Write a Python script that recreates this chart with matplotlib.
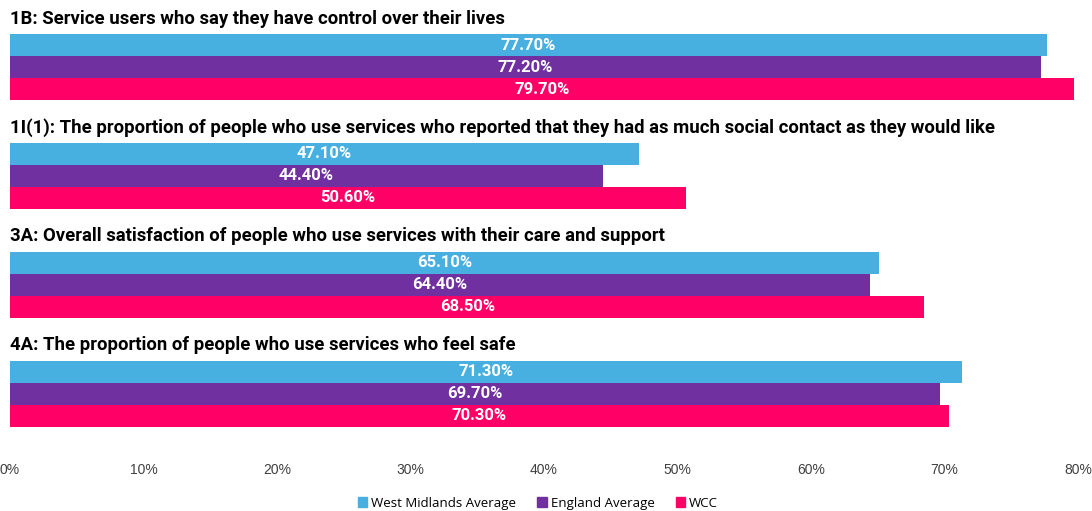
import matplotlib.pyplot as plt
from matplotlib.patches import Patch

titles = [
    "1B: Service users who say they have control over their lives",
    "1I(1): The proportion of people who use services who reported that they had as much social contact as they would like",
    "3A: Overall satisfaction of people who use services with their care and support",
    "4A: The proportion of people who use services who feel safe",
]
series = ["West Midlands Average", "England Average", "WCC"]
west_midlands = [77.7, 47.1, 65.1, 71.3]
england = [77.2, 44.4, 64.4, 69.7]
wcc = [79.7, 50.6, 68.5, 70.3]
colors = ["#47B0E0", "#7030A0", "#FF0066"]

narrow = ["Liberation Sans Narrow", "Roboto", "DejaVu Sans"]

fig = plt.figure(figsize=(10.92, 5.11), dpi=100)
ax = fig.add_axes([10 / 1092, 1 - 455 / 511, 1068 / 1092, 455 / 511])

pitch = 4.95
for g, title in enumerate(titles):
    y0 = g * pitch
    for j, vals in enumerate([west_midlands, england, wcc]):
        v = vals[g]
        ax.barh(y0 + j, v, height=1.0, color=colors[j])
        ax.text(v / 2, y0 + j, f"{v:.2f}%", ha="center", va="center",
                color="white", fontsize=12, fontweight="bold", family=narrow)
    ax.text(0, y0 - 1.2, title, ha="left", va="center", fontsize=13.3,
            fontweight="bold", color="black", family=narrow)

ax.set_xlim(0, 80)
ax.set_ylim(18.64, -2.05)
ax.set_xticks(range(0, 81, 10))
ax.set_xticklabels([f"{t}%" for t in range(0, 81, 10)], color="#404040",
                   fontsize=10, family=["Liberation Sans", "DejaVu Sans"])
ax.tick_params(axis="x", length=0, pad=6)
ax.set_yticks([])
for s in ax.spines.values():
    s.set_visible(False)

handles = [Patch(color=c, label=l) for c, l in zip(colors, series)]
fig.legend(handles=handles, loc="center", bbox_to_anchor=(538 / 1092, 1 - 503 / 511),
           ncol=3, frameon=False, prop={"family": ["Open Sans", "DejaVu Sans"], "size": 9.5},
           handlelength=0.7, handleheight=0.7, handletextpad=0.3, columnspacing=1.6)

fig.savefig("out.png", dpi=100)
